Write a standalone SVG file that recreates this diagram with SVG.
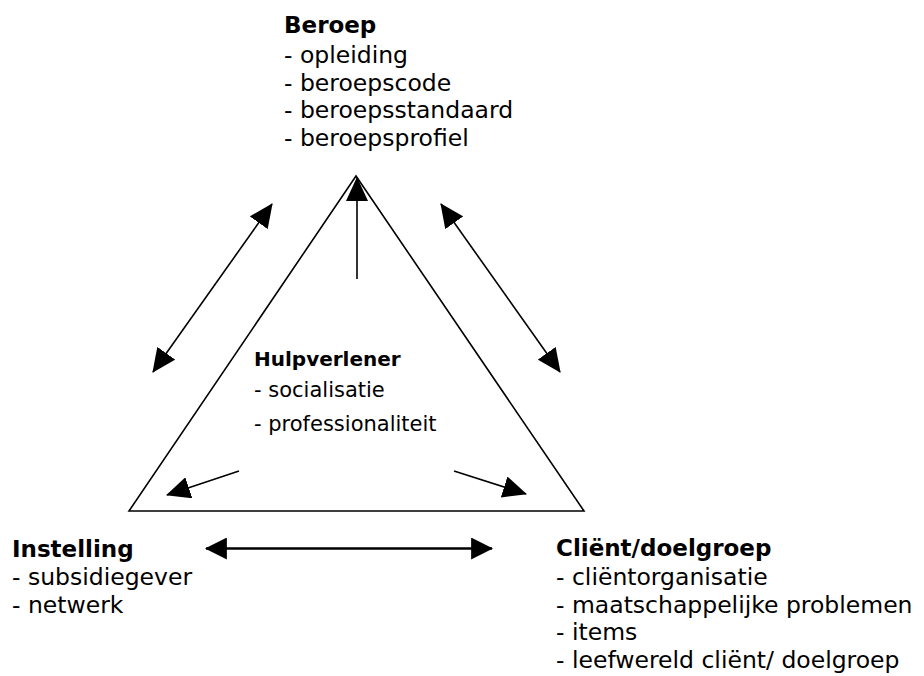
<svg xmlns="http://www.w3.org/2000/svg" width="924" height="676" viewBox="0 0 924 676">
<style>
text{font-family:"DejaVu Sans",Verdana,sans-serif;fill:#000}
.h{font-weight:bold;font-size:23px}
.t{font-size:23.5px}
.hs{font-weight:bold;font-size:20px}
.ts{font-size:21px}
.c{stroke:#000;stroke-width:1.6;fill:none}
.c2{stroke:#000;stroke-width:2.4;fill:none}
</style>
<defs>
<marker id="ah" markerUnits="userSpaceOnUse" markerWidth="22" markerHeight="22" viewBox="0 0 20 20" refX="19" refY="10" orient="auto-start-reverse">
<path d="M0,0 L20,10 L0,20 z" fill="#000"/>
</marker>
<marker id="ahl" markerUnits="userSpaceOnUse" markerWidth="24" markerHeight="22" viewBox="0 0 24 22" refX="23" refY="11" orient="auto-start-reverse">
<path d="M0,0 L24,11 L0,22 z" fill="#000"/>
</marker>
</defs>
<rect width="924" height="676" fill="#fff"/>
<g id="triangle">
<polygon points="356,176 129,511 584,511" fill="none" stroke="#000" stroke-width="1.6"/>
</g>
<g id="beroep">
<text class="h" x="284" y="33">Beroep</text>
<text class="t" x="284" y="63">- opleiding</text>
<text class="t" x="284" y="90.7">- beroepscode</text>
<text class="t" x="284" y="118.4">- beroepsstandaard</text>
<text class="t" x="284" y="146">- beroepsprofiel</text>
</g>
<g id="hulpverlener">
<text class="hs" x="254" y="366">Hulpverlener</text>
<text class="ts" x="254" y="397">- socialisatie</text>
<text class="ts" x="254" y="431">- professionaliteit</text>
</g>
<g id="instelling">
<text class="h" x="12" y="557">Instelling</text>
<text class="t" x="12" y="585">- subsidiegever</text>
<text class="t" x="12" y="613">- netwerk</text>
</g>
<g id="client">
<text class="h" x="556" y="556">Cliënt/doelgroep</text>
<text class="t" x="556" y="585">- cliëntorganisatie</text>
<text class="t" x="556" y="613">- maatschappelijke problemen</text>
<text class="t" x="556" y="640">- items</text>
<text class="t" x="556" y="668">- leefwereld cliënt/ doelgroep</text>
</g>
<g id="connectors">
<line class="c" x1="357" y1="279" x2="357" y2="178" marker-end="url(#ahl)"/>
<line class="c" x1="272" y1="204" x2="153" y2="372" marker-start="url(#ahl)" marker-end="url(#ahl)"/>
<line class="c" x1="441" y1="204" x2="560" y2="372" marker-start="url(#ahl)" marker-end="url(#ahl)"/>
<line class="c" x1="239" y1="471" x2="167" y2="495" marker-end="url(#ahl)"/>
<line class="c" x1="454" y1="471" x2="526" y2="494" marker-end="url(#ahl)"/>
<line class="c2" x1="206" y1="548.5" x2="492" y2="548.5" marker-start="url(#ah)" marker-end="url(#ah)"/>
</g>
</svg>
